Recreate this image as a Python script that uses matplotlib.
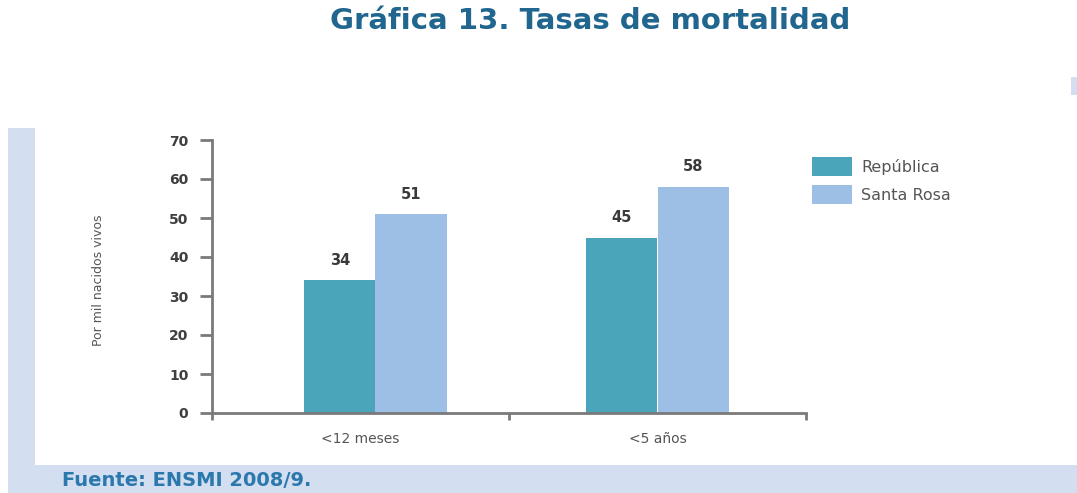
import numpy as np
import matplotlib.pyplot as plt
from matplotlib.patches import Rectangle

# data
categories = ['<12 meses', '<5 años']
series_names = ['República', 'Santa Rosa']
republica = [34, 45]
santa_rosa = [51, 58]
y_ticks = [0, 10, 20, 30, 40, 50, 60, 70]

colors = ['#4aa5ba', '#9dbfe6']
gray = '#7a7a7a'
title_color = '#20668f'

W, H = 1077, 493
fig = plt.figure(figsize=(W / 100, H / 100), dpi=100)


def px_rect(x0, y0, x1, y1, color):
    # rectangle given in image pixels (y from top)
    r = Rectangle((x0 / W, 1 - y1 / H), (x1 - x0) / W, (y1 - y0) / H,
                  transform=fig.transFigure, facecolor=color,
                  edgecolor='none', zorder=-10)
    fig.patches.append(r)


# light blue frame behind the chart
px_rect(8, 128, W, H, '#d3def0')
px_rect(35, 128, W, 465, 'white')
px_rect(1071, 77, W, 95, '#d3def0')

ax = fig.add_axes([212 / W, 80 / H, 594 / W, 273 / H])
ax.set_facecolor('none')

# group centres and bar width in axis units (boundaries at 0, 1, 2)
group_x = np.array([0.55, 1.5])
bw = 0.24

b1 = ax.bar(group_x - bw / 2, republica, bw, color=colors[0], label=series_names[0])
b2 = ax.bar(group_x + bw / 2, santa_rosa, bw, color=colors[1], label=series_names[1])

for bars in (b1, b2):
    for rect in bars:
        v = rect.get_height()
        ax.annotate(f'{v:g}', (rect.get_x() + rect.get_width() / 2, v),
                    xytext=(0, 9), textcoords='offset points',
                    ha='center', va='bottom', fontsize=10.5, fontweight='bold',
                    color='#3a3a3a')

ax.set_xlim(0, 2)
ax.set_ylim(0, 70)
ax.set_yticks(y_ticks)
ax.set_yticklabels([str(t) for t in y_ticks], fontsize=10, fontweight='bold', color='#3f3f3f')
ax.tick_params(axis='y', length=9, width=2, color=gray, pad=8)

ax.set_xticks([0, 1, 2])
ax.set_xticklabels([])
ax.set_xticks([0.5, 1.5], minor=True)
ax.set_xticklabels(categories, minor=True, fontsize=10, color='#555555')
ax.tick_params(axis='x', which='major', length=5, width=2, color=gray)
ax.tick_params(axis='x', which='minor', length=0, pad=14)

for s in ('top', 'right'):
    ax.spines[s].set_visible(False)
for s in ('left', 'bottom'):
    ax.spines[s].set_color(gray)
    ax.spines[s].set_linewidth(2)

ax.set_ylabel('Por mil nacidos vivos', fontsize=9, color='#555555')
ax.yaxis.set_label_coords(-0.18, 0.487)

ax.legend(loc='upper left', bbox_to_anchor=(798 / W, 1 - 143 / H),
          bbox_transform=fig.transFigure, frameon=False, fontsize=11.5,
          handlelength=2.5, handleheight=1.4, labelspacing=0.6,
          handletextpad=0.55, labelcolor='#555555')

fig.text(0.548, 1 - 21 / H, 'Gráfica 13. Tasas de mortalidad', ha='center', va='center',
         fontsize=21, fontweight='bold', color=title_color)
fig.text(62 / W, 1 - 480 / H, 'Fuente: ENSMI 2008/9.', ha='left', va='center',
         fontsize=14, fontweight='bold', color='#2b78ad')

fig.savefig('out.png', dpi=100)
